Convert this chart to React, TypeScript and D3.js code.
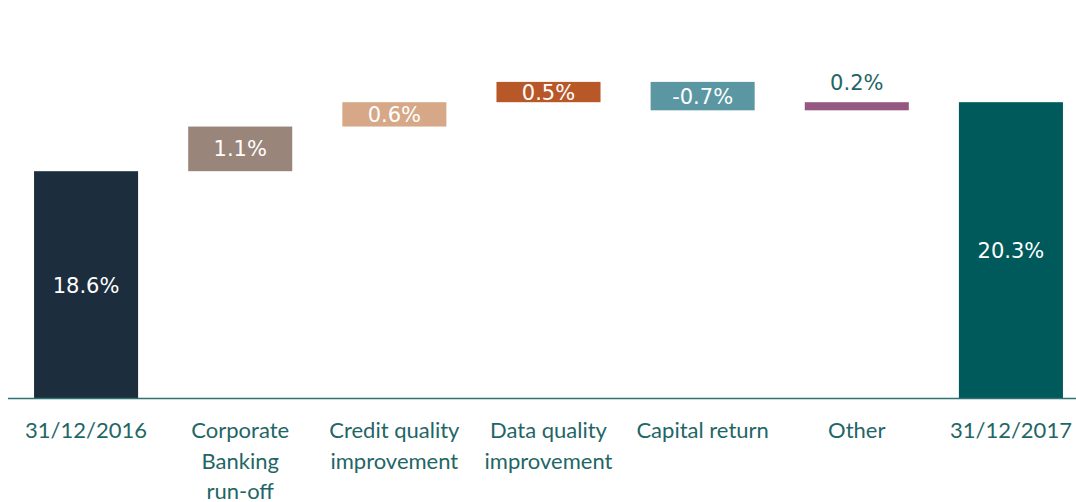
import React from "react";
import * as d3 from "d3";

const categories = [
  ["31/12/2016"],
  ["Corporate", "Banking", "run-off"],
  ["Credit quality", "improvement"],
  ["Data quality", "improvement"],
  ["Capital return"],
  ["Other"],
  ["31/12/2017"],
];
const values = [18.6, 1.1, 0.6, 0.5, -0.7, 0.2, 20.3];
const isTotal = [true, false, false, false, false, false, true];
const valueLabels = ["18.6%", "1.1%", "0.6%", "0.5%", "-0.7%", "0.2%", "20.3%"];
const colors = ["#1c2e3d", "#9a857a", "#d6a887", "#b85828", "#5b97a2", "#955981", "#005a5b"];

const W = 1076;
const H = 502;
const baseY = 398.5;
const AXIS_FONT = "Lato, 'Open Sans', sans-serif";
const VALUE_FONT = "'DejaVu Sans', sans-serif";
const TEXT_COLOR = "#1f6666";

export default function App() {
  const x = d3
    .scaleBand<number>()
    .domain(d3.range(values.length))
    .range([9, 1088])
    .paddingInner(0.325)
    .paddingOuter(0.1625);

  const y = d3.scaleLinear().domain([13, 22]).range([baseY, baseY - 9 * 40.59]);

  // waterfall segments
  let running = 0;
  const bars = values.map((v, i) => {
    let lo: number, hi: number;
    if (isTotal[i]) {
      lo = 13;
      hi = v;
      running = v;
    } else {
      const start = running;
      running = start + v;
      lo = Math.min(start, running);
      hi = Math.max(start, running);
    }
    return { i, lo, hi };
  });

  return (
    <svg
      width={W}
      height={H}
      style={{ position: "absolute", left: 0, top: 0, background: "#fff" }}
    >
      {bars.map((b) => {
        const top = y(b.hi);
        const bottom = b.lo === 13 ? baseY + 0.5 : y(b.lo);
        const h = bottom - top;
        const cx = x(b.i)! + x.bandwidth() / 2;
        const small = h < 15;
        return (
          <g key={b.i}>
            <rect x={x(b.i)} y={top} width={x.bandwidth()} height={h} fill={colors[b.i]} />
            <text
              x={cx}
              y={small ? top - 12 : (top + bottom) / 2}
              dy={small ? 0 : "0.36em"}
              textAnchor="middle"
              fontFamily={VALUE_FONT}
              fontSize={21}
              fill={small ? TEXT_COLOR : "#ffffff"}
            >
              {valueLabels[b.i]}
            </text>
          </g>
        );
      })}
      <line x1={8} x2={W} y1={baseY} y2={baseY} stroke="#2e7272" strokeWidth={1.5} />
      {categories.map((lines, i) => (
        <text
          key={i}
          x={x(i)! + x.bandwidth() / 2}
          y={438}
          textAnchor="middle"
          fontFamily={AXIS_FONT}
          fontSize={22}
          fill={TEXT_COLOR}
        >
          {lines.map((l, j) => (
            <tspan key={j} x={x(i)! + x.bandwidth() / 2} dy={j === 0 ? 0 : 30.5}>
              {l}
            </tspan>
          ))}
        </text>
      ))}
    </svg>
  );
}
